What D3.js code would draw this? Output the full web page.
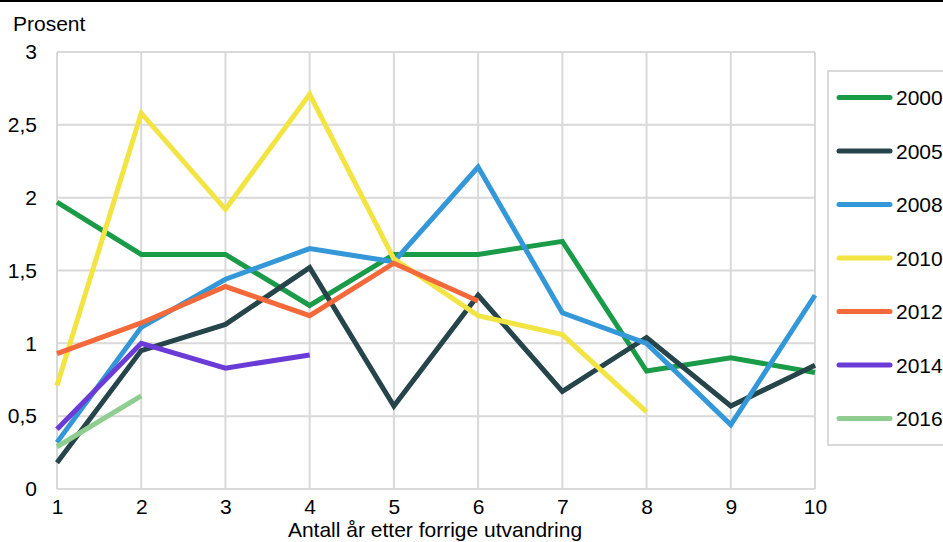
<!DOCTYPE html>
<html>
<head>
<meta charset="utf-8">
<script src="https://cdn.jsdelivr.net/npm/d3@7"></script>
<style>
  body { margin: 0; background: #fff; }
  svg { display: block; font-family: "Liberation Sans", Arial, sans-serif; }
</style>
</head>
<body>
<script>
// years after previous emigration
const years = [1, 2, 3, 4, 5, 6, 7, 8, 9, 10]
const yTicks = [0, 0.5, 1, 1.5, 2, 2.5, 3]

const cohorts = ["2000", "2005", "2008", "2010", "2012", "2014", "2016"]
const colors = ["#1a9b48", "#26454a", "#3498d8", "#f2e443", "#f3693a", "#6b3bd8", "#8fce90"]

const v2000 = [1.97, 1.61, 1.61, 1.26, 1.61, 1.61, 1.70, 0.81, 0.90, 0.80]
const v2005 = [0.18, 0.95, 1.13, 1.52, 0.57, 1.33, 0.67, 1.04, 0.57, 0.85]
const v2008 = [0.32, 1.11, 1.44, 1.65, 1.56, 2.21, 1.21, 1.00, 0.44, 1.33]
const v2010 = [0.71, 2.58, 1.92, 2.71, 1.58, 1.19, 1.06, 0.53]
const v2012 = [0.93, 1.14, 1.39, 1.19, 1.55, 1.29]
const v2014 = [0.41, 1.00, 0.83, 0.92]
const v2016 = [0.29, 0.64]

const series = [v2000, v2005, v2008, v2010, v2012, v2014, v2016]

const width = 943, height = 542
const margin = {top: 52, right: 128, bottom: 53, left: 57}
const fontSize = 21

const locale = d3.formatLocale({decimal: ",", thousands: " ", grouping: [3], currency: ["", " kr"]})
const fmt = locale.format("~g")

const svg = d3.select("body").append("svg")
    .attr("width", width)
    .attr("height", height)

const x = d3.scaleLinear()
    .domain([1, 10])
    .range([margin.left, width - margin.right])

const y = d3.scaleLinear()
    .domain([0, 3])
    .range([height - margin.bottom, margin.top])

// top rule
svg.append("line")
    .attr("x1", 0).attr("x2", width)
    .attr("y1", 1).attr("y2", 1)
    .attr("stroke", "#000")
    .attr("stroke-width", 2)

// grid
const grid = svg.append("g").attr("stroke", "#d9d9d9").attr("stroke-width", 2)
grid.selectAll(".gy").data(yTicks).join("line")
    .attr("x1", x(1)).attr("x2", x(10))
    .attr("y1", d => y(d)).attr("y2", d => y(d))
grid.selectAll(".gx").data(years).join("line")
    .attr("x1", d => x(d)).attr("x2", d => x(d))
    .attr("y1", y(0)).attr("y2", y(3))

// axes
const yAxis = g => g
    .attr("transform", `translate(${x(1) - 17},0)`)
    .call(d3.axisLeft(y).tickValues(yTicks).tickFormat(fmt).tickSize(0))
    .call(g => g.select(".domain").remove())
    .call(g => g.selectAll("text").attr("font-size", fontSize).attr("fill", "#000")
        .attr("font-family", "Liberation Sans, Arial, sans-serif"))

const xAxis = g => g
    .attr("transform", `translate(0,${y(0)})`)
    .call(d3.axisBottom(x).tickValues(years).tickFormat(d3.format("d")).tickSize(0))
    .call(g => g.select(".domain").remove())
    .call(g => g.selectAll("text").attr("font-size", fontSize).attr("fill", "#000")
        .attr("font-family", "Liberation Sans, Arial, sans-serif")
        .attr("y", 25).attr("dy", 0))

svg.append("g").call(yAxis)
svg.append("g").call(xAxis)

svg.append("text")
    .attr("x", 13).attr("y", 31)
    .attr("font-size", fontSize)
    .text("Prosent")

svg.append("text")
    .attr("x", (x(1) + x(10)) / 2 - 1)
    .attr("y", 537)
    .attr("text-anchor", "middle")
    .attr("font-size", fontSize)
    .text("Antall år etter forrige utvandring")

// lines
const line = d3.line()
    .x((d, i) => x(years[i]))
    .y(d => y(d))

svg.append("g")
    .selectAll("path")
    .data(series)
    .join("path")
    .attr("fill", "none")
    .attr("stroke", (d, i) => colors[i])
    .attr("stroke-width", 5)
    .attr("stroke-linejoin", "miter")
    .attr("d", d => line(d))

// legend
const legend = svg.append("g")
legend.append("rect")
    .attr("x", 828).attr("y", 71)
    .attr("width", 140).attr("height", 374)
    .attr("fill", "#fff")
    .attr("stroke", "#d9d9d9")
    .attr("stroke-width", 2)

const item = legend.selectAll(".item")
    .data(cohorts)
    .join("g")
    .attr("transform", (d, i) => `translate(0,${97.5 + i * 53.5})`)

item.append("line")
    .attr("x1", 839).attr("x2", 890)
    .attr("stroke", (d, i) => colors[i])
    .attr("stroke-width", 5)
    .attr("stroke-linecap", "round")

item.append("text")
    .attr("x", 896).attr("y", 7.5)
    .attr("font-size", fontSize)
    .text(d => d)
</script>
</body>
</html>
